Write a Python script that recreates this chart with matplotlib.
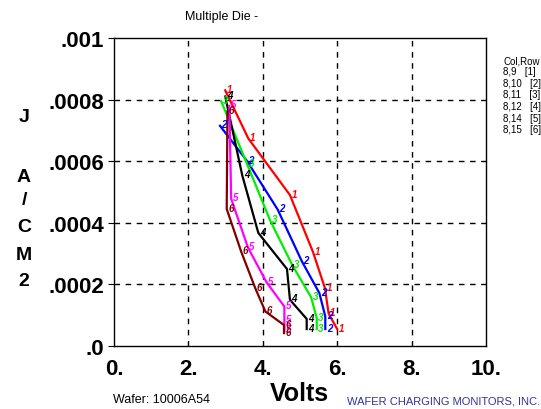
import matplotlib.pyplot as plt

plt.rcParams['font.family'] = ['Liberation Sans', 'DejaVu Sans']

# die curves: volts vs current density (A/cm2)
die_labels = ["1", "2", "3", "4", "5", "6"]
die_colors = ["#ff0000", "#0000ff", "#00ee00", "#000000", "#ff00ff", "#800000"]

volts_1 = [2.99, 3.61, 4.73, 5.35, 5.67, 5.77, 6.00]
j_1 = [0.000830, 0.000674, 0.000490, 0.000305, 0.000188, 0.000105, 0.000055]

volts_2 = [2.85, 3.58, 4.40, 5.05, 5.52, 5.68, 5.68]
j_2 = [0.000715, 0.000600, 0.000443, 0.000275, 0.000172, 0.000096, 0.000055]

volts_3 = [2.88, 3.58, 4.20, 4.80, 5.30, 5.45, 5.45]
j_3 = [0.000795, 0.000590, 0.000407, 0.000261, 0.000158, 0.000090, 0.000055]

volts_4 = [2.99, 3.45, 3.88, 4.65, 4.73, 5.18, 5.18]
j_4 = [0.000810, 0.000553, 0.000367, 0.000250, 0.000150, 0.000088, 0.000055]

volts_5 = [3.10, 3.15, 3.60, 4.10, 4.58, 4.58, 4.58]
j_5 = [0.000780, 0.000478, 0.000320, 0.000207, 0.000128, 0.000082, 0.000050]

volts_6 = [3.05, 3.03, 3.42, 3.80, 4.07, 4.57, 4.57]
j_6 = [0.000762, 0.000445, 0.000306, 0.000187, 0.000112, 0.000068, 0.000042]

all_volts = [volts_1, volts_2, volts_3, volts_4, volts_5, volts_6]
all_j = [j_1, j_2, j_3, j_4, j_5, j_6]

legend_rows = ["Col,Row", "8,9   [1]", "8,10   [2]", "8,11   [3]",
               "8,12   [4]", "8,14   [5]", "8,15   [6]"]

x_ticks = [0, 2, 4, 6, 8, 10]
x_tick_labels = ["0.", "2.", "4.", "6.", "8.", "10."]
y_ticks = [0, 0.0002, 0.0004, 0.0006, 0.0008, 0.001]
y_tick_labels = [".0", ".0002", ".0004", ".0006", ".0008", ".001"]

# y axis title, stacked letters (pixel rows)
ylab_chars = ["J", "A", "/", "C", "M", "2"]
ylab_rows = [117, 178, 201, 228, 256, 282]

fig = plt.figure(figsize=(5.41, 4.10), dpi=100)
ax = fig.add_axes([114 / 541, 1 - 347 / 410, 372 / 541, 308 / 410])

for v, j, lab, col in zip(all_volts, all_j, die_labels, die_colors):
    ax.plot(v, j, color=col, lw=1.6, zorder=3)
    for xx, yy in zip(v, j):
        ax.annotate(lab, (xx, yy), xytext=(3, 1), textcoords="offset points",
                    color=col, fontsize=7, fontweight="bold", fontstyle="italic",
                    ha="center", va="center", zorder=4)

ax.set_xlim(0, 10)
ax.set_ylim(0, 0.001)
ax.set_xticks(x_ticks)
ax.set_xticklabels(x_tick_labels, fontsize=16, fontweight="bold")
ax.set_yticks(y_ticks)
ax.set_yticklabels(y_tick_labels, fontsize=16, fontweight="bold")
ax.tick_params(axis="y", direction="out", length=4, pad=3)
ax.tick_params(axis="x", direction="out", length=0, pad=9)

for gx in x_ticks[1:-1]:
    ax.axvline(gx, color="black", lw=1, ls=(0, (4, 4)), zorder=1)
for gy in y_ticks[1:-1]:
    ax.axhline(gy, color="black", lw=1, ls=(0, (4, 4)), zorder=1)

for s in ax.spines.values():
    s.set_linewidth(1)

fig.text(222 / 541, 1 - 17 / 410, "Multiple Die -", ha="center", va="center", fontsize=9)
for ch, row in zip(ylab_chars, ylab_rows):
    fig.text(24 / 541, 1 - row / 410, ch, ha="center", va="center",
             fontsize=14, fontweight="bold")
fig.text(299 / 541, 1 - 394 / 410, "Volts", ha="center", va="center",
         fontsize=18, fontweight="bold")
fig.text(113 / 541, 1 - 400 / 410, "Wafer: 10006A54", ha="left", va="center", fontsize=9)
fig.text(347 / 541, 1 - 402 / 410, "WAFER CHARGING MONITORS, INC.", ha="left", va="center",
         fontsize=8, color="#333399")

for i, row in enumerate(legend_rows):
    fig.text(503 / 541, 1 - (61 + i * 11.5) / 410, row, ha="left", va="center", fontsize=7)

plt.savefig("out.png", dpi=100)
